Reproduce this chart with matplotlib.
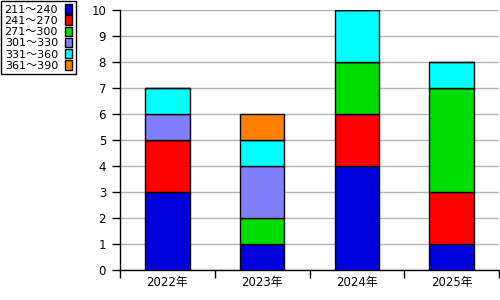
import matplotlib
matplotlib.use("Agg")
import matplotlib.pyplot as plt
import numpy as np

plt.rcParams['font.family'] = ['DejaVu Sans', 'Noto Sans CJK JP']

years = ['2022年', '2023年', '2024年', '2025年']
ranges = ['211～240', '241～270', '271～300', '301～330', '331～360', '361～390']
v211 = [3, 1, 4, 1]
v241 = [2, 0, 2, 2]
v271 = [0, 1, 2, 4]
v301 = [1, 2, 0, 0]
v331 = [1, 1, 2, 1]
v361 = [0, 1, 0, 0]
series = [v211, v241, v271, v301, v331, v361]
colors = ['#0000dd', '#ff0000', '#00dd00', '#8080ff', '#00ffff', '#ff8000']

fig = plt.figure(figsize=(5, 3), dpi=100)
ax = fig.add_axes([0.24, 0.1, 0.758, 0.8667])

x = np.arange(len(years))
bottom = np.zeros(len(years))
handles = []
for vals, col in zip(series, colors):
    vals = np.array(vals, dtype=float)
    bars = ax.bar(x, vals, width=0.47, bottom=bottom, color=col,
                  edgecolor='black', linewidth=1, zorder=3)
    handles.append(bars)
    bottom += vals

ax.set_xlim(-0.5, len(years) - 0.5)
ax.set_ylim(0, 10)
ax.set_yticks(range(0, 11))
ax.set_xticks(x)
ax.set_xticklabels(years)
ax.set_xticks(np.arange(len(years) + 1) - 0.5, minor=True)
ax.tick_params(axis='x', which='major', length=0, labelsize=8.5, pad=4)
ax.tick_params(axis='x', which='minor', length=6, width=1, direction='out')
ax.tick_params(axis='y', length=6, width=1, labelsize=8.5, pad=4)
ax.yaxis.grid(True, color='#b4b4b4', linewidth=1, zorder=0)
for s in ['top', 'right']:
    ax.spines[s].set_visible(False)
for s in ['left', 'bottom']:
    ax.spines[s].set_linewidth(1)

leg = fig.legend(handles, ranges, loc='upper left', bbox_to_anchor=(0.002, 0.997),
                 borderaxespad=0, markerfirst=False, handlelength=0.7,
                 handleheight=0.95, handletextpad=0.6, labelspacing=0.05,
                 borderpad=0.3, fontsize=8, fancybox=False,
                 edgecolor='black', framealpha=1)
leg.get_frame().set_linewidth(1)

fig.savefig('out.png', dpi=100)
